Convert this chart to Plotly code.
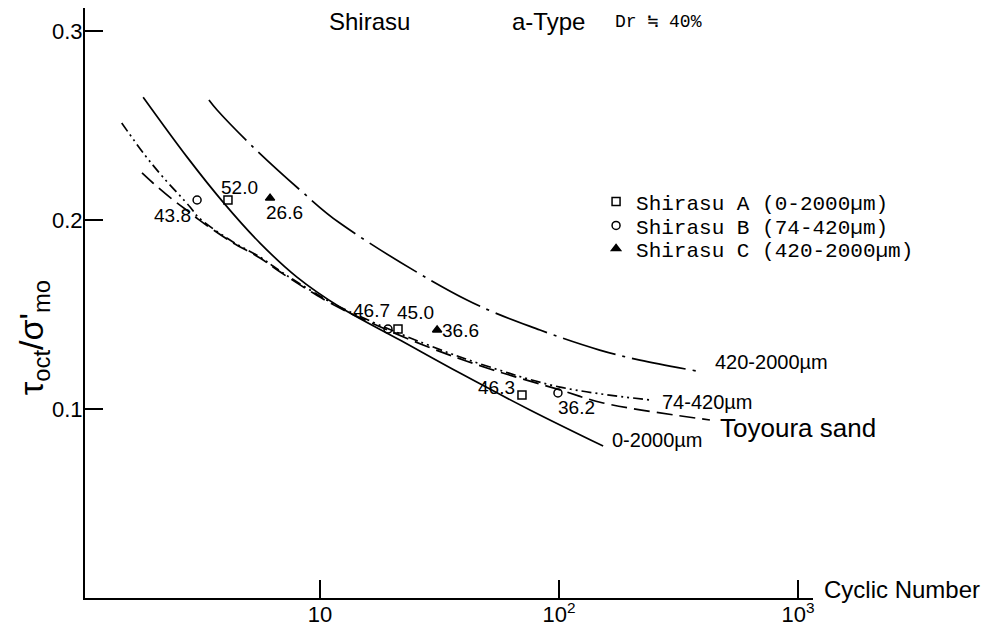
import numpy as np
import plotly.graph_objects as go

# ---------------- data ----------------
# design curves (cycle number N, stress ratio tau_oct/sigma'_m0)
c0_2000_x = [1.82, 2.78, 3.93, 5.61, 8.01, 12.1, 21.6, 38.5, 75.6, 153]
c0_2000_y = [0.265, 0.2333, 0.2095, 0.1878, 0.1698, 0.154, 0.1365, 0.119, 0.0995, 0.0804]

c420_2000_x = [3.43, 3.71, 5.25, 8.25, 12.1, 41.2, 83.3, 148, 218, 378]
c420_2000_y = [0.2635, 0.2582, 0.2386, 0.2159, 0.1984, 0.1577, 0.1418, 0.1312, 0.1259, 0.1201]

c74_420_x = [1.48, 1.85, 2.20, 2.86, 3.09, 4.20, 5.61, 7.00, 9.08, 12.1, 27.0, 51.4, 101, 240]
c74_420_y = [0.2513, 0.2344, 0.2228, 0.2069, 0.2016, 0.1894, 0.1804, 0.172, 0.163, 0.154, 0.1349, 0.1222, 0.1116, 0.1048]

toyoura_x = [1.80, 2.00, 2.43, 2.91, 3.09, 4.20, 5.61, 7.00, 9.08, 12.1, 27.0, 51.4, 101, 153, 428]
toyoura_y = [0.2249, 0.2196, 0.2106, 0.2032, 0.2005, 0.1889, 0.1799, 0.1715, 0.1624, 0.1534, 0.1339, 0.1212, 0.1101, 0.1032, 0.0942]

# test points
shirasuA_x = [4.12, 21.2, 70.0]
shirasuA_y = [0.2106, 0.1423, 0.1074]
shirasuA_dr = ["52.0", "45.0", "46.3"]

shirasuB_x = [3.06, 19.25, 99.0]
shirasuB_y = [0.2106, 0.1423, 0.1085]
shirasuB_dr = ["43.8", "46.7", "36.2"]

shirasuC_x = [6.18, 30.9]
shirasuC_y = [0.2116, 0.1418]
shirasuC_dr = ["26.6", "36.6"]

x_tickvals = [10, 100, 1000]
x_ticktext = ["10", "10<sup>2</sup>", "10<sup>3</sup>"]
y_tickvals = [0.1, 0.2, 0.3]
y_ticktext = ["0.1", "0.2", "0.3"]

# ---------------- figure ----------------
SANS = "Liberation Sans, Arial, sans-serif"
MONO = "Liberation Mono, Courier New, monospace"

fig = go.Figure()

curves = [
    (c0_2000_x, c0_2000_y, "solid", "0-2000µm", 7, 6),
    (c420_2000_x, c420_2000_y, "55px,7px,3px,7px", "420-2000µm", 16, 9),
    (c74_420_x, c74_420_y, "10px,4px,2px,4px,2px,4px", "74-420µm", 10, -2),
    (toyoura_x, toyoura_y, "16px,7px", "Toyoura sand", 8, -8),
]
for cx, cy, dash, name, dx, dy in curves:
    fig.add_trace(go.Scatter(
        x=cx, y=cy, mode="lines", showlegend=False,
        line=dict(color="black", width=1.7, dash=dash, shape="spline", smoothing=1.0),
        hoverinfo="skip"))
    fig.add_annotation(
        x=np.log10(cx[-1]), y=cy[-1], xref="x", yref="y", text=name,
        showarrow=False, xanchor="left", yanchor="middle", xshift=dx, yshift=dy,
        font=dict(family=SANS, size=26 if name == "Toyoura sand" else 20, color="black"))

points = [
    (shirasuA_x, shirasuA_y, shirasuA_dr, "square-open", 8, "Shirasu A (0-2000µm)", "legend", 0.6715),
    (shirasuB_x, shirasuB_y, shirasuB_dr, "circle-open", 8, "Shirasu B (74-420µm)", "legend2", 0.6308),
    (shirasuC_x, shirasuC_y, shirasuC_dr, "triangle-up", 8, "Shirasu C (420-2000µm)", "legend3", 0.5918),
]
legend_layout = {}
for px, py, _, sym, sz, name, lg, ly in points:
    fig.add_trace(go.Scatter(
        x=px, y=py, mode="markers", name=name, legend=lg,
        marker=dict(symbol=sym, size=sz, color="black", line=dict(color="black", width=1.5))))
    legend_layout[lg] = dict(x=0.7020, y=ly, xanchor="left", yanchor="middle",
                             bgcolor="rgba(0,0,0,0)", borderwidth=0,
                             font=dict(family=MONO, size=21, color="black"))

# point labels (relative density values)
label_shifts = {
    "52.0": (12, 13), "45.0": (17, 17), "46.3": (-25, 8),
    "43.8": (-25, -15), "46.7": (-16, 19), "36.2": (19, -15),
    "26.6": (14, -14), "36.6": (23, 0),
}
for px, py, labels, *_ in points:
    for xv, yv, lab in zip(px, py, labels):
        sx, sy = label_shifts[lab]
        fig.add_annotation(
            x=np.log10(xv), y=yv, text=lab, showarrow=False,
            xshift=sx, yshift=sy, xanchor="center", yanchor="middle",
            font=dict(family=SANS, size=19, color="black"))

# header texts
fig.add_annotation(x=0.3324, y=0.9763, xref="paper", yref="paper", text="Shirasu",
                   showarrow=False, xanchor="left", yanchor="middle",
                   font=dict(family=SANS, size=24, color="black"))
fig.add_annotation(x=0.5838, y=0.9763, xref="paper", yref="paper", text="a-Type",
                   showarrow=False, xanchor="left", yanchor="middle",
                   font=dict(family=SANS, size=24, color="black"))
fig.add_annotation(x=0.7253, y=0.9763, xref="paper", yref="paper", text="Dr ≒ 40%",
                   showarrow=False, xanchor="left", yanchor="middle",
                   font=dict(family=MONO, size=18, color="black"))

# axis titles
fig.add_annotation(x=1.0124, y=0.0136, xref="paper", yref="paper", text="Cyclic Number",
                   showarrow=False, xanchor="left", yanchor="middle",
                   font=dict(family=SANS, size=24, color="black"))
fig.add_annotation(x=-0.0715, y=0.442, xref="paper", yref="paper",
                   text="τ<sub>oct</sub>/σ'<sub>mo</sub>", textangle=-90,
                   showarrow=False, xanchor="center", yanchor="middle",
                   font=dict(family=SANS, size=34, color="black"))

# page body has an 8px default margin: figure is 987x620 placed at (8, 8)
fig.update_layout(
    width=987, height=620,
    margin=dict(l=77, r=182, t=0, b=30, autoexpand=False),
    paper_bgcolor="white", plot_bgcolor="white",
    **legend_layout,
)
fig.update_xaxes(
    type="log", range=[0.0167, 3.0628],
    tickvals=x_tickvals, ticktext=x_ticktext,
    showgrid=False, zeroline=False, showline=True, linecolor="black", linewidth=2,
    ticks="inside", ticklen=18, tickwidth=2, tickcolor="black",
    ticklabelstandoff=-4,
    tickfont=dict(family=SANS, size=22, color="black"),
)
fig.update_yaxes(
    range=[0, 0.3122], tickvals=y_tickvals, ticktext=y_ticktext,
    showgrid=False, zeroline=False, showline=True, linecolor="black", linewidth=2,
    ticks="inside", ticklen=18, tickwidth=2, tickcolor="black",
    ticklabelstandoff=-4,
    tickfont=dict(family=SANS, size=22, color="black"),
)

fig.write_html("out.html")
